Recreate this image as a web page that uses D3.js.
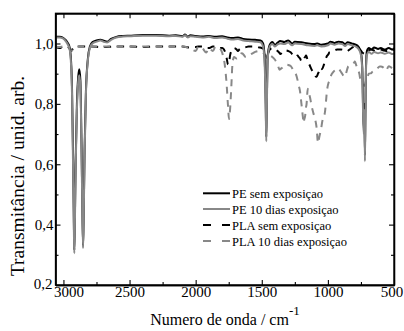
<!DOCTYPE html>
<html><head><meta charset="utf-8">
<script src="https://cdn.jsdelivr.net/npm/d3@7/dist/d3.min.js"></script>
<style>
html,body{margin:0;padding:0;background:#fff;}
svg{display:block;}
</style></head>
<body>
<svg id="c" width="404" height="331"></svg>
<script>
// ---- data ----
const peBaseWn = [3060,3030,3000,2980,2965,2955,2945,2935,2928,2922,2918,2914,2908,2898,2888,2880,2872,2865,2858,2852,2848,2840,2830,2815,2800,2780,2750,2720,2690,2670,2640,2600,2550,2500,2400,2300,2200,2150,2100,2080,2060,2040,2000,1950,1900,1850,1800,1760,1720,1680,1640,1600,1550,1510,1490,1478,1470,1466,1462,1455,1440,1420,1400,1380,1360,1330,1300,1270,1250,1200,1150,1100,1080,1050,1000,980,950,920,890,870,850,820,790,770,750,740,732,728,724,720,716,712,705,690,670,650,620,600,570,540,510,500];
const peSem = [1.022,1.022,1.018,1.01,1.0,0.99,0.96,0.85,0.65,0.45,0.315,0.40,0.60,0.80,0.89,0.915,0.88,0.72,0.50,0.33,0.40,0.65,0.84,0.95,0.99,1.005,1.01,1.012,1.008,1.006,1.015,1.022,1.025,1.026,1.028,1.028,1.026,1.027,1.024,1.03,1.022,1.027,1.025,1.023,1.025,1.022,1.024,1.02,1.018,1.02,1.015,1.013,1.012,1.01,1.0,0.95,0.80,0.69,0.80,0.96,0.995,1.005,0.995,1.003,1.008,1.005,1.01,1.0,1.006,1.004,1.0,0.998,1.0,0.996,1.0,1.006,1.002,1.006,1.004,0.998,1.004,1.0,0.996,0.99,0.97,0.92,0.75,0.72,0.80,0.63,0.78,0.92,0.975,0.985,0.98,0.987,0.982,0.985,0.98,0.985,0.98,0.985];
const pe10 = [1.02,1.02,1.016,1.006,0.995,0.985,0.95,0.83,0.62,0.42,0.305,0.38,0.58,0.78,0.875,0.895,0.86,0.70,0.48,0.322,0.39,0.63,0.83,0.945,0.985,1.0,1.006,1.01,1.005,1.003,1.012,1.02,1.023,1.024,1.026,1.026,1.024,1.025,1.022,1.027,1.02,1.024,1.022,1.02,1.022,1.018,1.02,1.016,1.013,1.015,1.01,1.008,1.006,1.004,0.99,0.93,0.78,0.676,0.78,0.95,0.99,0.998,0.99,0.997,1.0,0.998,1.003,0.994,1.0,0.998,0.994,0.992,0.994,0.99,0.994,1.0,0.996,1.0,0.998,0.992,0.998,0.994,0.99,0.983,0.962,0.91,0.73,0.70,0.78,0.61,0.76,0.91,0.962,0.972,0.966,0.972,0.968,0.97,0.966,0.97,0.965,0.968];

const plaWn = [3060,3030,3000,2970,2950,2938,2925,2900,2850,2800,2700,2600,2500,2400,2300,2200,2100,2050,2000,1980,1950,1920,1900,1870,1850,1820,1800,1780,1765,1755,1748,1740,1730,1722,1710,1690,1680,1670,1650,1620,1600,1560,1550,1520,1500,1490,1470,1455,1440,1420,1400,1380,1365,1360,1345,1340,1320,1300,1280,1270,1260,1250,1240,1230,1220,1210,1205,1195,1190,1182,1180,1172,1165,1162,1152,1150,1140,1130,1125,1110,1099,1090,1085,1075,1065,1060,1048,1045,1030,1023,1011,1010,995,990,980,960,950,930,923,900,872,870,850,847,820,800,797,780,760,759,740,725,720,710,700,690,671,670,650,640,630,608,600,580,560,540,520,500];
const plaSem = [0.99,0.985,0.99,0.99,0.982,0.978,0.985,0.99,0.99,0.99,0.988,0.99,0.99,0.988,0.99,0.99,0.99,0.987,0.988,0.99,0.99,0.985,0.985,0.99,0.99,0.985,0.985,0.975,0.95,0.93,0.935,0.96,0.975,0.98,0.985,0.98,0.975,0.98,0.985,0.988,0.99,0.99,0.99,0.987,0.985,0.983,0.98,0.965,0.98,0.985,0.98,0.975,0.968,0.965,0.972,0.975,0.977,0.975,0.97,0.965,0.96,0.955,0.957,0.96,0.955,0.95,0.945,0.94,0.94,0.945,0.95,0.955,0.96,0.958,0.94,0.935,0.93,0.92,0.915,0.905,0.895,0.89,0.89,0.9,0.91,0.92,0.918,0.915,0.93,0.94,0.955,0.956,0.965,0.97,0.972,0.975,0.977,0.98,0.98,0.98,0.976,0.975,0.975,0.976,0.985,0.99,0.99,0.985,0.98,0.98,0.97,0.966,0.965,0.97,0.975,0.978,0.98,0.98,0.976,0.975,0.977,0.98,0.98,0.977,0.975,0.978,0.98,0.978];
const pla10 = [0.99,0.988,0.99,0.99,0.98,0.975,0.985,0.99,0.99,0.99,0.99,0.99,0.99,0.99,0.99,0.99,0.99,0.985,0.975,0.99,0.985,0.97,0.985,0.975,0.99,0.985,0.97,0.93,0.86,0.79,0.75,0.78,0.86,0.93,0.955,0.95,0.952,0.96,0.968,0.955,0.96,0.97,0.972,0.975,0.972,0.97,0.96,0.95,0.96,0.955,0.946,0.93,0.913,0.915,0.92,0.922,0.93,0.929,0.925,0.918,0.91,0.903,0.896,0.88,0.86,0.84,0.82,0.78,0.76,0.737,0.745,0.76,0.79,0.797,0.85,0.845,0.83,0.81,0.797,0.77,0.753,0.735,0.72,0.67,0.69,0.70,0.726,0.735,0.76,0.77,0.825,0.83,0.87,0.875,0.89,0.905,0.91,0.916,0.918,0.905,0.89,0.892,0.92,0.924,0.93,0.938,0.94,0.92,0.895,0.891,0.87,0.86,0.862,0.88,0.89,0.9,0.902,0.903,0.91,0.912,0.915,0.924,0.924,0.92,0.91,0.925,0.92,0.915];

const xTicks = [3000,2500,2000,1500,1000,500];
const xMinor = [2750,2250,1750,1250,750];
const yTicks = [0.2,0.4,0.6,0.8,1.0];
const yMinor = [0.3,0.5,0.7,0.9,1.1];
const seriesNames = ["PE sem exposiçao","PE 10 dias exposiçao","PLA sem exposiçao","PLA 10 dias exposiçao"];

// ---- drawing ----
const FONT = "Liberation Serif";
const svg = d3.select("#c");
const L=55.5, R=394, T=13.3, B=285;
const x = d3.scaleLinear().domain([3060,500]).range([L,R]);
const y = d3.scaleLinear().domain([0.2,1.1]).range([B,T]);

const series = [
  {wn:peBaseWn, v:peSem, color:"#000", dash:null, w:2},
  {wn:peBaseWn, v:pe10, color:"#888", dash:null, w:2},
  {wn:plaWn, v:plaSem, color:"#000", dash:"7,6", w:2},
  {wn:plaWn, v:pla10, color:"#888", dash:"7,6", w:2}
];

svg.append("clipPath").attr("id","cp").append("rect")
  .attr("x",L).attr("y",T).attr("width",R-L).attr("height",B-T);

const line = d3.line().x(d=>x(d[0])).y(d=>y(d[1])).curve(d3.curveMonotoneX);
const g = svg.append("g").attr("clip-path","url(#cp)");
[2,3,0,1].forEach(i=>{
  const s = series[i];
  const pts = s.wn.map((w,j)=>[w,s.v[j]]);
  g.append("path").attr("d", line(pts))
    .attr("fill","none").attr("stroke",s.color).attr("stroke-width",s.w)
    .attr("stroke-dasharray",s.dash).attr("stroke-linejoin","round");
});

const fmt = v => d3.format(".1f")(v).replace(".",",");
function styleAxis(sel){
  sel.selectAll(".domain").attr("stroke","#000").attr("stroke-width",1.3);
  sel.selectAll(".tick line").attr("stroke","#000").attr("stroke-width",1.1);
  sel.selectAll("text").style("font-family",FONT).attr("fill","#000").attr("font-size",15);
}
function axis(gen, tr){
  const a = svg.append("g").attr("transform",tr).call(gen);
  styleAxis(a); return a;
}
const xb = axis(d3.axisBottom(x).tickValues(xTicks).tickSize(-5).tickSizeOuter(0).tickPadding(1).tickFormat(d3.format("d")), `translate(0,${B})`);
xb.selectAll(".tick text").filter(d=>d===3000).attr("dx",5);
xb.selectAll(".tick text").filter(d=>d===500).attr("dx",-2.5);
axis(d3.axisBottom(x).tickValues(xMinor).tickSize(-3).tickSizeOuter(0).tickFormat(""), `translate(0,${B})`);
axis(d3.axisTop(x).tickValues(xTicks).tickSize(-5).tickSizeOuter(0).tickFormat(""), `translate(0,${T})`);
axis(d3.axisTop(x).tickValues(xMinor).tickSize(-3).tickSizeOuter(0).tickFormat(""), `translate(0,${T})`);
const yl = axis(d3.axisLeft(y).tickValues(yTicks).tickSize(-5).tickSizeOuter(0).tickPadding(2).tickFormat(fmt), `translate(${L},0)`);
yl.selectAll(".tick text").filter(d=>d===0.2).attr("dx",-1).attr("dy","0.2em");
axis(d3.axisLeft(y).tickValues(yMinor).tickSize(-3).tickSizeOuter(0).tickFormat(""), `translate(${L},0)`);
axis(d3.axisRight(y).tickValues(yTicks).tickSize(-5).tickSizeOuter(0).tickFormat(""), `translate(${R},0)`);
axis(d3.axisRight(y).tickValues(yMinor).tickSize(-3).tickSizeOuter(0).tickFormat(""), `translate(${R},0)`);
svg.append("rect").attr("x",L).attr("y",T).attr("width",R-L).attr("height",B-T)
  .attr("fill","none").attr("stroke","#000").attr("stroke-width",1.3);

// titles
const xt = svg.append("text").attr("x",225).attr("y",325).attr("text-anchor","middle")
  .style("font-family",FONT).attr("font-size",16).attr("fill","#000");
xt.append("tspan").text("Numero de onda / cm");
xt.append("tspan").attr("dy",-10).attr("font-size",13).text("-1");
svg.append("text").attr("transform","translate(24,176) rotate(-90)").attr("text-anchor","middle")
  .style("font-family",FONT).attr("font-size",19.5).attr("fill","#000").text("Transmitância / unid. arb.");

// legend
const legY = [193.3,209,225,241];
const lg = svg.append("g");
series.forEach((s,i)=>{
  lg.append("line").attr("x1",203).attr("x2",230).attr("y1",legY[i]).attr("y2",legY[i])
    .attr("stroke",s.color).attr("stroke-width",2).attr("stroke-dasharray", s.dash ? "8,11" : null);
  lg.append("text").attr("x",232).attr("y",legY[i]+4.5).style("font-family",FONT)
    .attr("font-size",12.5).attr("fill","#000").text(seriesNames[i]);
});
</script>
</body></html>
